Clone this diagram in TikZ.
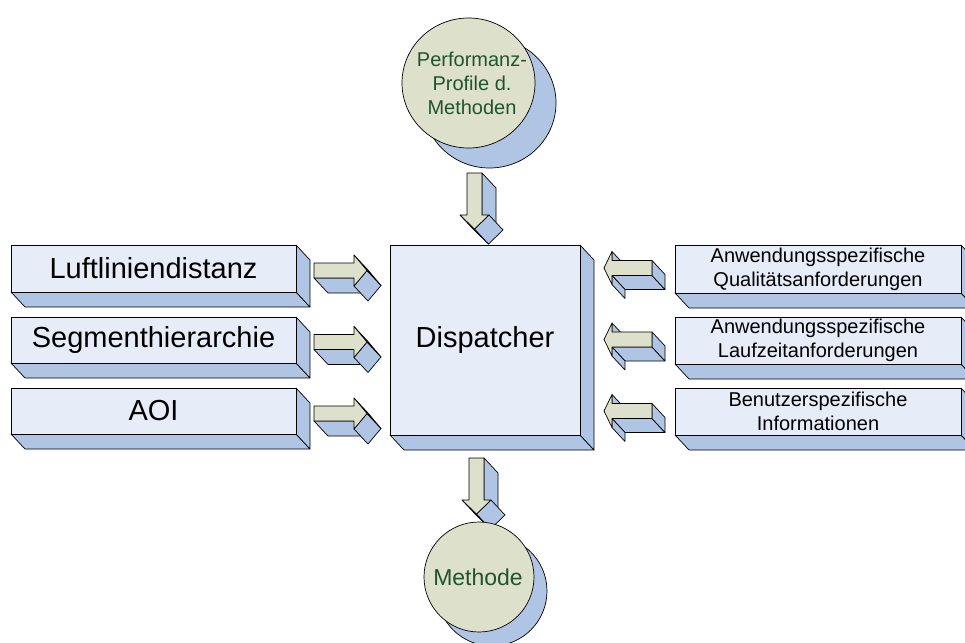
\documentclass[tikz,border=0pt]{standalone}
\usepackage{fontspec}
\setmainfont{Liberation Sans}
\definecolor{boxfront}{RGB}{230,236,248}
\definecolor{boxside}{RGB}{176,196,228}
\definecolor{olive}{RGB}{221,224,202}
\definecolor{txtgreen}{RGB}{32,84,48}
\tikzset{
  side/.style={fill=boxside,draw=black,line width=0.7pt,line join=round},
  front/.style={fill=boxfront,draw=black,line width=0.7pt,line join=round},
  arrfront/.style={fill=olive,draw=black,line width=0.7pt,line join=round},
  circfront/.style={fill=olive,draw=black,line width=0.7pt},
  bigtxt/.style={font=\fontsize{29}{34}\selectfont,text=black,align=center},
  smalltxt/.style={font=\fontsize{20}{24}\selectfont,text=black,align=center},
  circtxt/.style={font=\fontsize{20}{24}\selectfont,text=txtgreen,align=center},
  pics/rarrow/.style={code={
    \filldraw[side] (0,15) -- (40,15) -- (54,30) -- (14,30) -- cycle;
    \filldraw[side] (40,23) -- (53,7.5) -- (67,22.5) -- (54,38) -- cycle;
    \filldraw[side] (40,-8) -- (53,7.5) -- (67,22.5) -- (54,7) -- cycle;
    \filldraw[arrfront] (0,0) -- (40,0) -- (40,-8) -- (53,7.5) -- (40,23) -- (40,15) -- (0,15) -- cycle;
  }},
  pics/larrow/.style={code={
    \filldraw[side] (0,-9) -- (0,0) -- (13,14) -- (13,5) -- cycle;
    \filldraw[side] (0,15) -- (40,15) -- (53,29) -- (13,29) -- cycle;
    \filldraw[side] (0,15) -- (0,24) -- (13,38) -- (13,29) -- cycle;
    \filldraw[side] (40,0) -- (53,14) -- (53,29) -- (40,15) -- cycle;
    \filldraw[arrfront] (0,0) -- (40,0) -- (40,15) -- (0,15) -- (0,24) -- (-8,7.5) -- (0,-9) -- cycle;
  }},
  pics/darrow/.style={code={
    \filldraw[side] (15,0) -- (29,15) -- (29,57) -- (15,42) -- cycle;
    \filldraw[side] (7.5,56) -- (-7,42) -- (7,57) -- (21.5,71) -- cycle;
    \filldraw[side] (22,42) -- (7.5,56) -- (21.5,71) -- (36,57) -- cycle;
    \filldraw[arrfront] (0,0) -- (15,0) -- (15,42) -- (22,42) -- (7.5,56) -- (-7,42) -- (0,42) -- cycle;
  }}
}
\newcommand\slabbox[4]{%
  \filldraw[side] (#1,#4) -- (#3,#4) -- (#3+14,#4+15) -- (#1+14,#4+15) -- cycle;
  \filldraw[side] (#3,#2) -- (#3+14,#2+15) -- (#3+14,#4+15) -- (#3,#4) -- cycle;
  \filldraw[front] (#1,#2) rectangle (#3,#4);}
\begin{document}
\begin{tikzpicture}[x=1pt,y=-1pt]
\useasboundingbox (0,0) rectangle (965,642);
\fill[white] (0,0) rectangle (965,642);
% top circle
\filldraw[side] (489.5,103) ellipse [x radius=66.5, y radius=65];
\filldraw[circfront] (468.5,83) ellipse [x radius=66.5, y radius=65];
\node[circtxt] (perf) at (472,83) {Performanz-\\Profile d.\\Methoden};
% down arrow top
\pic at (467,173) {darrow};
% left boxes
\slabbox{11}{245}{296}{292}
\node[bigtxt] (luft) at (153.5,268.5) {Luftliniendistanz};
\slabbox{11}{317}{296}{363}
\node[bigtxt] (seg) at (153.5,340) {Segmenthierarchie};
\slabbox{11}{388}{296}{434}
\node[bigtxt] (aoi) at (153.5,411) {AOI};
% left arrows
\pic at (314,263) {rarrow};
\pic at (314,334.5) {rarrow};
\pic at (314,406) {rarrow};
% dispatcher
\slabbox{390}{245}{580}{435}
\node[bigtxt] (disp) at (485,340) {Dispatcher};
% right arrows
\pic at (612,260.5) {larrow};
\pic at (612,332) {larrow};
\pic at (612,403.5) {larrow};
% right boxes
\slabbox{675}{245}{961}{293}
\node[smalltxt] (qual) at (818,269) {Anwendungsspezifische\\Qualitätsanforderungen};
\slabbox{675}{317}{961}{364}
\node[smalltxt] (lauf) at (818,340.5) {Anwendungsspezifische\\Laufzeitanforderungen};
\slabbox{675}{388}{961}{435}
\node[smalltxt] (ben) at (818,411.5) {Benutzerspezifische\\Informationen};
% bottom down arrow
\pic at (469,458) {darrow};
% bottom circle
\filldraw[side] (492,591) circle [radius=55];
\filldraw[circfront] (479,577) circle [radius=55];
\node[circtxt,font=\fontsize{23}{28}\selectfont] (meth) at (478,577) {Methode};
\end{tikzpicture}
\end{document}
